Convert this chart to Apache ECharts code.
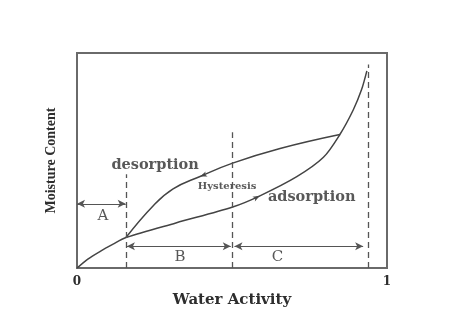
<!DOCTYPE html>
<html>
<head>
<meta charset="utf-8">
<script src="https://cdn.jsdelivr.net/npm/echarts@6/dist/echarts.min.js"></script>
<style>
  html, body { margin: 0; padding: 0; background: #ffffff; }
  #chart { width: 449px; height: 313px; }
</style>
</head>
<body>
<div id="chart"></div>
<script>
// ---- data ----
const adsorptionX = [0, 0.035, 0.075, 0.115, 0.158, 0.319, 0.502, 0.590, 0.709, 0.795, 0.848, 0.891, 0.918, 0.935];
const adsorptionY = [0, 0.042, 0.078, 0.110, 0.142, 0.210, 0.284, 0.336, 0.425, 0.515, 0.621, 0.735, 0.830, 0.917];
const desorptionX = [0.848, 0.655, 0.502, 0.397, 0.310, 0.246, 0.158];
const desorptionY = [0.621, 0.556, 0.488, 0.426, 0.368, 0.290, 0.142];

const boundaryX = [0.158, 0.5, 0.938];
const boundaryTop = [0.436, 0.631, 0.947];

const regionNames = ['A', 'B', 'C'];
const regionStart = [0, 0.161, 0.508];
const regionEnd = [0.157, 0.496, 0.923];
const regionArrowY = [0.299, 0.102, 0.102];
const regionLabelX = [0.084, 0.332, 0.647];
const regionLabelY = [0.24, 0.05, 0.05];

const curveLabels = ['desorption', 'Hysteresis', 'adsorption'];
const curveLabelX = [0.252, 0.484, 0.757];
const curveLabelY = [0.48, 0.379, 0.33];

const xTicks = [0, 1];
const xAxisName = 'Water Activity';
const yAxisName = 'Moisture Content';

// ---- chart ----
const chart = echarts.init(document.getElementById('chart'), null, { renderer: 'canvas' });
const ink = '#2e2e2e';
const serif = 'DejaVu Serif';

const toPairs = (xs, ys) => xs.map((x, i) => [x, ys[i]]);

const option = {
  animation: false,
  backgroundColor: '#ffffff',
  grid: {
    left: 77, right: 62, top: 53, bottom: 35,
    show: true, borderColor: '#6a6a6a', borderWidth: 2, backgroundColor: 'transparent'
  },
  xAxis: {
    type: 'value', min: xTicks[0], max: xTicks[xTicks.length - 1], interval: 1,
    name: xAxisName, nameLocation: 'middle', nameGap: 11,
    nameTextStyle: { fontFamily: serif, fontSize: 15, fontWeight: 'bold', color: ink },
    axisLine: { show: false }, axisTick: { show: false }, splitLine: { show: false },
    axisLabel: { margin: 8, fontFamily: serif, fontSize: 12, fontWeight: 'bold', color: ink }
  },
  yAxis: {
    type: 'value', min: 0, max: 1,
    name: yAxisName, nameLocation: 'middle', nameGap: 19, nameRotate: 90,
    nameTextStyle: { fontFamily: 'Liberation Serif', fontSize: 14, fontWeight: 'bold', color: ink },
    axisLine: { show: false }, axisTick: { show: false }, splitLine: { show: false },
    axisLabel: { show: false }
  },
  series: [
    {
      name: 'adsorption', type: 'line', data: toPairs(adsorptionX, adsorptionY),
      smooth: 0.3, symbol: 'none', silent: true,
      lineStyle: { color: '#444444', width: 1.5 }
    },
    {
      name: 'desorption', type: 'line', data: toPairs(desorptionX, desorptionY),
      smooth: 0.45, symbol: 'none', silent: true,
      lineStyle: { color: '#444444', width: 1.5 }
    },
    {
      name: 'guides', type: 'line', data: [], silent: true,
      markLine: {
        silent: true, symbol: 'none', label: { show: false },
        lineStyle: { type: [6, 4], color: '#555555', width: 1.3 },
        data: boundaryX.map((x, i) => [{ coord: [x, 0] }, { coord: [x, boundaryTop[i]] }])
      }
    },
    {
      name: 'regions', type: 'line', data: [], silent: true,
      markLine: {
        silent: true, symbol: ['arrow', 'arrow'], symbolSize: [6, 8], label: { show: false },
        lineStyle: { type: 'solid', color: '#555555', width: 1.2 },
        data: regionNames.map((n, i) => [
          { coord: [regionStart[i], regionArrowY[i]] },
          { coord: [regionEnd[i], regionArrowY[i]] }
        ])
      }
    },
    {
      name: 'direction', type: 'scatter', silent: true,
      symbol: 'arrow', symbolSize: [4, 7],
      itemStyle: { color: '#222222' },
      data: [
        { value: [desorptionX[3], desorptionY[3]], symbolRotate: 111 },
        { value: [adsorptionX[7], adsorptionY[7]], symbolRotate: -63 }
      ]
    },
    {
      name: 'regionLabels', type: 'scatter', silent: true, symbolSize: 0,
      label: { show: true, position: 'inside', formatter: p => p.name,
               fontFamily: serif, fontSize: 15, color: ink },
      data: regionNames.map((n, i) => ({ name: n, value: [regionLabelX[i], regionLabelY[i]] }))
    },
    {
      name: 'curveLabels', type: 'scatter', silent: true, symbolSize: 0,
      label: { show: true, position: 'inside', formatter: p => p.name,
               fontFamily: serif, fontSize: 14.5, fontWeight: 'bold', color: ink },
      data: curveLabels.map((n, i) => ({
        name: n, value: [curveLabelX[i], curveLabelY[i]],
        label: n === 'Hysteresis' ? { fontSize: 10 } : {}
      }))
    }
  ]
};
chart.setOption(option);
</script>
</body>
</html>
